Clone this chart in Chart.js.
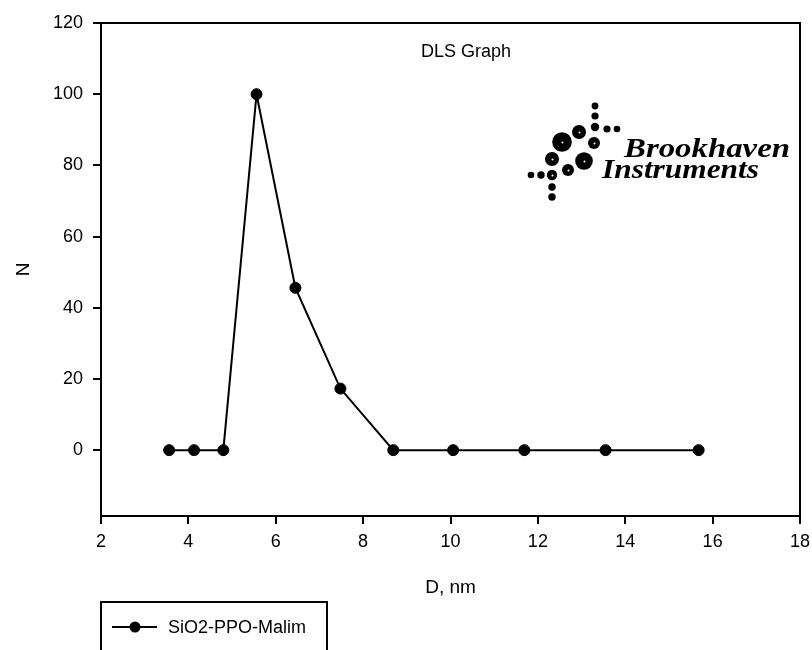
<!DOCTYPE html>
<html>
<head>
<meta charset="utf-8">
<script src="https://cdn.jsdelivr.net/npm/chart.js@4"></script>
<style>
  html, body { margin: 0; padding: 0; background: #fff; }
  #wrap { width: 812px; height: 650px; }
</style>
</head>
<body>
<div id="wrap"><canvas id="dls" width="812" height="650"></canvas></div>
<script>
// values
const diameters = [3.56, 4.13, 4.8, 5.56, 6.45, 7.48, 8.69, 10.06, 11.69, 13.55, 15.68];
const counts = [0, 0, 0, 100, 45.6, 17.3, 0, 0, 0, 0, 0];
const xTicks = [2, 4, 6, 8, 10, 12, 14, 16, 18];
const yTicks = [0, 20, 40, 60, 80, 100, 120];
const seriesName = "SiO2-PPO-Malim";

const FONT = "'Liberation Sans', Arial, sans-serif";

// dots of the Brookhaven logo: [x, y, r]
const logoDots = [
  [595, 106, 3.4], [595, 116, 3.6], [595, 127, 4.2], [607, 129, 3.6], [617, 129, 3.3],
  [562, 142, 9.8], [579, 132, 7], [594, 143, 6], [552, 159, 7], [584, 161, 8.8],
  [568, 170, 6], [552, 175, 5.2], [541, 175, 3.7], [531, 175, 3.3],
  [552, 187, 3.7], [552, 197, 3.7]
];

const extras = {
  id: "extras",
  afterDraw(chart) {
    const { ctx, chartArea: a } = chart;
    ctx.save();
    // top + right frame
    ctx.strokeStyle = "#000";
    ctx.lineWidth = 2;
    ctx.beginPath();
    ctx.moveTo(a.left, a.top);
    ctx.lineTo(a.right, a.top);
    ctx.lineTo(a.right, a.bottom);
    ctx.stroke();

    // in-plot title
    ctx.fillStyle = "#000";
    ctx.font = "18px " + FONT;
    ctx.textAlign = "center";
    ctx.textBaseline = "middle";
    ctx.fillText("DLS Graph", 466, 52);

    // logo
    logoDots.forEach(([x, y, r]) => {
      ctx.beginPath();
      ctx.arc(x, y, r, 0, Math.PI * 2);
      ctx.fillStyle = "#000";
      ctx.fill();
      if (r > 5) {
        ctx.beginPath();
        ctx.arc(x + 0.5, y + 0.5, 1, 0, Math.PI * 2);
        ctx.fillStyle = "#fff";
        ctx.fill();
      }
    });
    ctx.fillStyle = "#000";
    ctx.textAlign = "left";
    ctx.textBaseline = "alphabetic";
    ctx.font = "bold italic 28px 'Liberation Serif', 'DejaVu Serif', serif";
    const fitText = (txt, x, y, w) => {
      const m = ctx.measureText(txt).width;
      ctx.save();
      ctx.translate(x, y);
      ctx.scale(w / m, 1);
      ctx.fillText(txt, 0, 0);
      ctx.restore();
    };
    fitText("Brookhaven", 624, 157, 166);
    fitText("Instruments", 602, 178, 157);

    // legend box
    const ds = chart.data.datasets[0];
    ctx.strokeStyle = "#000";
    ctx.lineWidth = 2;
    ctx.strokeRect(101, 602, 226, 70);
    ctx.beginPath();
    ctx.moveTo(112, 627);
    ctx.lineTo(157, 627);
    ctx.stroke();
    ctx.beginPath();
    ctx.arc(135, 627, 5.5, 0, Math.PI * 2);
    ctx.fill();
    ctx.font = "18px " + FONT;
    ctx.textBaseline = "middle";
    ctx.fillText(ds.label, 168, 628);
    ctx.restore();
  }
};

new Chart(document.getElementById("dls"), {
  type: "line",
  data: {
    datasets: [{
      label: seriesName,
      data: diameters.map((d, i) => ({ x: d, y: counts[i] })),
      borderColor: "#000",
      borderWidth: 2,
      backgroundColor: "#000",
      pointBackgroundColor: "#000",
      pointBorderColor: "#000",
      pointRadius: 5.5,
      pointBorderWidth: 1,
      tension: 0,
      fill: false
    }]
  },
  options: {
    responsive: false,
    animation: false,
    layout: { padding: { left: 0, top: 23, right: 12, bottom: 0 } },
    plugins: {
      legend: { display: false },
      tooltip: { enabled: false },
      title: { display: false }
    },
    scales: {
      x: {
        type: "linear",
        min: 2,
        max: 18,
        afterBuildTicks: (s) => { s.ticks = xTicks.map((v) => ({ value: v })); },
        afterFit: (s) => { s.height = 134; s.paddingLeft = 0; s.paddingRight = 0; },
        grid: { drawOnChartArea: false, tickLength: 8, color: "#000", lineWidth: 2 },
        border: { color: "#000", width: 2 },
        ticks: { color: "#000", font: { family: FONT, size: 18 }, padding: 7, maxRotation: 0 },
        title: {
          display: true,
          text: "D, nm",
          color: "#000",
          font: { family: FONT, size: 19 },
          padding: { top: 0, bottom: 51 }
        }
      },
      y: {
        type: "linear",
        min: -18.5,
        max: 120,
        afterBuildTicks: (s) => { s.ticks = yTicks.map((v) => ({ value: v })); },
        afterFit: (s) => { s.width = 101; s.paddingTop = 0; s.paddingBottom = 0; },
        grid: { drawOnChartArea: false, tickLength: 8, color: "#000", lineWidth: 2 },
        border: { color: "#000", width: 2 },
        ticks: { color: "#000", font: { family: FONT, size: 18 }, padding: 10 },
        title: {
          display: true,
          text: "N",
          color: "#000",
          font: { family: FONT, size: 19 },
          padding: { top: 12, bottom: 0 }
        }
      }
    }
  },
  plugins: [extras]
});
</script>
</body>
</html>
